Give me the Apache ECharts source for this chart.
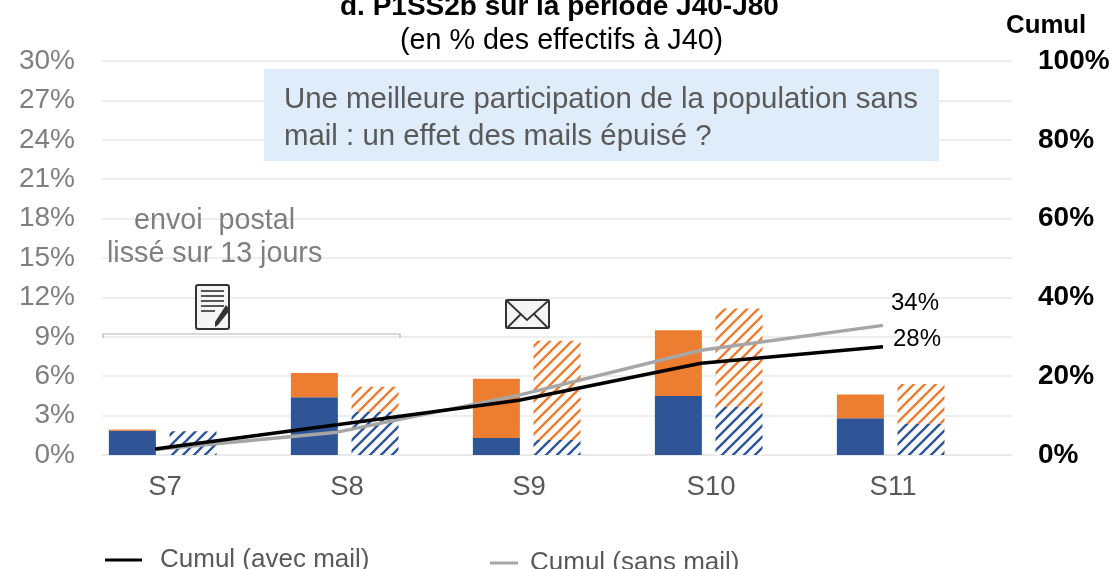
<!DOCTYPE html>
<html><head><meta charset="utf-8">
<style>html,body{margin:0;padding:0;background:#fff}#c{width:1114px;height:569px}</style>
<script src="https://cdn.jsdelivr.net/npm/echarts@6/dist/echarts.min.js"></script>
</head><body><div id="c"></div>
<script>
const categories = ['S7','S8','S9','S10','S11'];
const avecBleu   = [1.85,4.4,1.3,4.5,2.8];
const avecOrange = [0.1,1.85,4.5,5.0,1.8];
const sansBleu   = [1.8,3.3,1.15,3.7,2.4];
const sansOrange = [0,1.9,7.55,7.45,3.0];
const cumulAvec  = [1.5,7.7,13.9,23.3,27.5];
const cumulSans  = [1.4,5.8,15.2,26.6,32.9];
const labelsFin  = ['34%','28%'];

const FONT = '"Liberation Sans", Arial, sans-serif';
const BLUE = '#2F5597', ORANGE = '#ED7D31';
function hatch(color, period, w){
  const c = document.createElement('canvas');
  c.width = c.height = period;
  const x = c.getContext('2d');
  x.fillStyle = '#fff'; x.fillRect(0,0,period,period);
  x.strokeStyle = color; x.lineWidth = w; x.lineCap = 'square';
  [-period,0,period].forEach(d=>{x.beginPath();x.moveTo(d,period);x.lineTo(d+period,0);x.stroke();});
  return {image:c, repeat:'repeat'};
}
const bar = (name,stack,data,color)=>({name,type:'bar',stack,data,barWidth:47,barGap:'29%',
  itemStyle:{color},silent:true,z:2});
const axisColor='#e8e8e8';
const txt = (text,x,y,fontSize,fill,extra)=>({type:'text',x,y,z:10,
  style:Object.assign({text,fontSize,fill,fontFamily:FONT,verticalAlign:'middle'},extra||{})});
const option = {
  animation:false,
  textStyle:{fontFamily:FONT},
  grid:[{left:102,right:102,top:61,bottom:114},{left:64,right:140,top:61,bottom:114}],
  legend:[
   {data:[{name:'Cumul (avec mail)'}],left:100,top:542,itemWidth:37,itemHeight:3,icon:'rect',
    textStyle:{fontSize:26,color:'#595959',fontFamily:FONT,padding:[0,0,0,13]}},
   {data:[{name:'Cumul (sans mail)'}],left:485,top:545,itemWidth:28,itemHeight:3,icon:'rect',
    textStyle:{fontSize:26,color:'#595959',fontFamily:FONT,padding:[0,0,0,7]}}
  ],
  xAxis:[
   {type:'category',data:categories,gridIndex:0,axisTick:{show:false},
    axisLine:{lineStyle:{color:axisColor,width:1.5}},
    axisLabel:{fontSize:27.5,color:'#595959',margin:18,padding:[0,56,0,0],fontFamily:FONT}},
   {type:'category',data:categories,gridIndex:1,show:false}
  ],
  yAxis:[
   {type:'value',min:0,max:30,interval:3,gridIndex:0,
    axisLabel:{formatter:'{value}%',fontSize:28,color:'#7f7f7f',margin:27,fontFamily:FONT},
    axisLine:{show:false},axisTick:{show:false},
    splitLine:{lineStyle:{color:axisColor,width:1.5}}},
   {type:'value',min:0,max:100,interval:20,gridIndex:0,position:'right',
    axisLabel:{formatter:'{value}%',fontSize:28,fontWeight:'bold',color:'#000',margin:26,fontFamily:FONT},
    axisLine:{show:false},axisTick:{show:false},splitLine:{show:false}},
   {type:'value',min:0,max:100,gridIndex:1,show:false}
  ],
  series:[
   bar('avec bleu','a',avecBleu,BLUE),
   bar('avec orange','a',avecOrange,ORANGE),
   bar('sans bleu','b',sansBleu,hatch(BLUE,11,2.4)),
   bar('sans orange','b',sansOrange,hatch(ORANGE,11,2.4)),
   bar('vide','c',categories.map(()=>null),'transparent'),
   {name:'Cumul (sans mail)',type:'line',xAxisIndex:1,yAxisIndex:2,data:cumulSans,symbol:'none',silent:true,z:4,
    lineStyle:{color:'#A6A6A6',width:3.5},itemStyle:{color:'#A6A6A6'},
    endLabel:{show:true,formatter:()=>labelsFin[0],color:'#000',fontSize:24,fontFamily:FONT,offset:[0,-22]}},
   {name:'Cumul (avec mail)',type:'line',xAxisIndex:1,yAxisIndex:2,data:cumulAvec,symbol:'none',silent:true,z:5,
    lineStyle:{color:'#000',width:3.5},itemStyle:{color:'#000'},
    endLabel:{show:true,formatter:()=>labelsFin[1],color:'#000',fontSize:24,fontFamily:FONT,offset:[2,-7]}}
  ],
  graphic:[
   txt('d. P1SS2b sur la période J40-J80',340,7,28,'#000',{fontWeight:'bold'}),
   txt('(en % des effectifs à J40)',400,41,28.7,'#000'),
   txt('Cumul',1006,26,25.8,'#000',{fontWeight:'bold'}),
   {type:'rect',shape:{x:264,y:69,width:675,height:92},style:{fill:'#DFECFA'},z:6},
   txt('Une meilleure participation de la population sans',284,100,29.4,'#595959'),
   txt('mail : un effet des mails épuisé ?',284,137,29.4,'#595959'),
   txt('envoi  postal',134,221,28.7,'#7f7f7f'),
   txt('lissé sur 13 jours',107,254,28.7,'#7f7f7f'),
   {type:'polyline',shape:{points:[[103,338],[103,334],[400,334],[400,338]]},style:{stroke:'#b3b3b3',lineWidth:1.2,fill:null},z:7},
   {type:'rect',shape:{x:196,y:285,width:33,height:44,r:2},style:{fill:'#f5f5f5',stroke:'#333',lineWidth:2},z:7},
   ...[0,1,2,3].map(i=>({type:'line',shape:{x1:201,y1:291+i*5,x2:224,y2:291+i*5},style:{stroke:'#444',lineWidth:1.8},z:8})),
   {type:'line',shape:{x1:201,y1:311,x2:215,y2:311},style:{stroke:'#444',lineWidth:1.8},z:8},
   {type:'polygon',shape:{points:[[226,305],[230,310],[218,325],[215,327],[215,322]]},style:{fill:'#333'},z:8},
   {type:'rect',shape:{x:506,y:300,width:43,height:28,r:1},style:{fill:'#f5f5f5',stroke:'#333',lineWidth:2},z:7},
   {type:'polyline',shape:{points:[[507,301],[527,320],[548,301]]},style:{stroke:'#333',lineWidth:1.8,fill:null},z:8},
   {type:'line',shape:{x1:507,y1:328,x2:521,y2:314},style:{stroke:'#333',lineWidth:1.8},z:8},
   {type:'line',shape:{x1:548,y1:328,x2:534,y2:314},style:{stroke:'#333',lineWidth:1.8},z:8}
  ]
};
const chart = echarts.init(document.getElementById('c'),null,{renderer:'canvas',width:1114,height:569});
chart.setOption(option);
</script></body></html>
